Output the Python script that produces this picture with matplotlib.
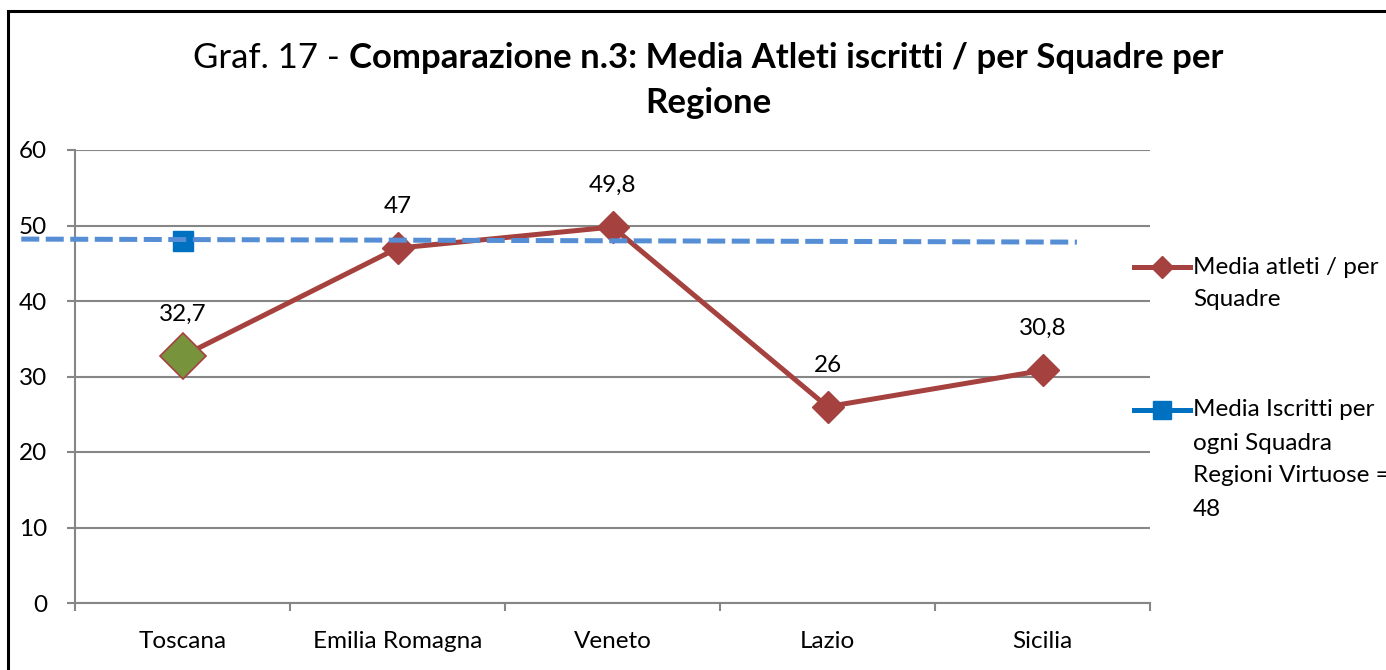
import matplotlib.pyplot as plt
from matplotlib.lines import Line2D
from matplotlib.patches import Rectangle

regions = ["Toscana", "Emilia Romagna", "Veneto", "Lazio", "Sicilia"]
media_atleti = [32.7, 47, 49.8, 26, 30.8]
labels_atleti = ["32,7", "47", "49,8", "26", "30,8"]
media_virtuose = [48]          # only one point, at Toscana
ref_line_x = [-0.75, 4.16]     # dashed reference line drawn on top
ref_line_y = [48.2, 47.8]

W, H = 1386, 670
plt.rcParams['font.family'] = ['Lato', 'DejaVu Sans']
fs = 17.5

fig = plt.figure(figsize=(W / 100, H / 100), dpi=100)
ax = fig.add_axes([75 / W, 1 - 603 / H, 1075 / W, 453 / H])

red = '#A5413E'
blue = '#0070C0'
grid = '#868686'

x = list(range(len(regions)))
ax.plot(x, media_atleti, color=red, lw=3.6, marker='D', ms=16.5,
        mfc=red, mec=red, zorder=3)
# first point highlighted
ax.plot(x[0], media_atleti[0], marker='D', ms=23, mfc='#77933C', mec=red,
        mew=1.2, ls='none', zorder=4)
ax.plot(x[:1], media_virtuose, color=blue, marker='s', ms=14, ls='none', zorder=3)
ax.plot(ref_line_x, ref_line_y, color='#558ED5', lw=3.6, ls=(0, (3.6, 1.3)),
        clip_on=False, zorder=5)

for xi, yi, lab in zip(x, media_atleti, labels_atleti):
    ax.annotate(lab, (xi, yi), xytext=(0, 30), textcoords='offset points',
                ha='center', va='center', fontsize=fs)

ax.set_xlim(-0.5, 4.5)
ax.set_ylim(0, 60)
ax.set_yticks(range(0, 61, 10))
ax.set_xticks([i - 0.5 for i in range(6)])
ax.set_xticklabels([])
ax.set_xticks(x, minor=True)
ax.set_xticklabels(regions, minor=True)
ax.tick_params(axis='x', which='minor', length=0, pad=20, labelsize=fs)
ax.tick_params(axis='x', which='major', length=6, width=1.5, color=grid)
ax.tick_params(axis='y', length=6, width=1.5, color=grid, labelsize=fs, pad=14)
ax.grid(axis='y', color=grid, lw=1.5)
ax.set_axisbelow(True)
for s in ['top', 'right']:
    ax.spines[s].set_visible(False)
for s in ['left', 'bottom']:
    ax.spines[s].set_color(grid)
    ax.spines[s].set_linewidth(1.5)

# title with mixed weight
t1 = fig.text(0, 1 - 58 / H, "Graf. 17 - ", fontsize=25, va='center', ha='left')
t2 = ax.annotate("Comparazione n.3: Media Atleti iscritti / per Squadre per",
                 xy=(1, 0), xycoords=t1, va='bottom', ha='left',
                 fontsize=25, fontweight='bold')
fig.canvas.draw()
r = fig.canvas.get_renderer()
w1 = t1.get_window_extent(r).width
w2 = t2.get_window_extent(r).width
t1.set_x((708 - (w1 + w2) / 2) / W)
fig.text(708 / W, 1 - 103 / H, "Regione", fontsize=25, fontweight='bold',
         ha='center', va='center')

# legend drawn by hand
fig.add_artist(Line2D([1134 / W, 1162 / W, 1190 / W], [1 - 267 / H] * 3, color=red,
                      lw=3.6, marker='D', ms=11, markevery=[1],
                      transform=fig.transFigure))
fig.add_artist(Line2D([1134 / W, 1162 / W, 1190 / W], [1 - 410 / H] * 3, color=blue,
                      lw=3.6, marker='s', ms=13, markevery=[1],
                      transform=fig.transFigure))
fig.text(1193 / W, 1 - 267 / H, "Media atleti / per", fontsize=fs, va='center')
fig.text(1193 / W, 1 - 300 / H, "Squadre", fontsize=fs, va='center')
for i, line in enumerate(["Media Iscritti per", "ogni Squadra",
                          "Regioni Virtuose =", "48"]):
    fig.text(1193 / W, 1 - (410 + 33 * i) / H, line, fontsize=fs, va='center')

# outer frame
fig.add_artist(Rectangle((8 / W, -0.1), 1.2, 1 - 11 / H + 0.1, fill=False,
                         ec='black', lw=2.2, transform=fig.transFigure))

fig.savefig('out.png', dpi=100)
